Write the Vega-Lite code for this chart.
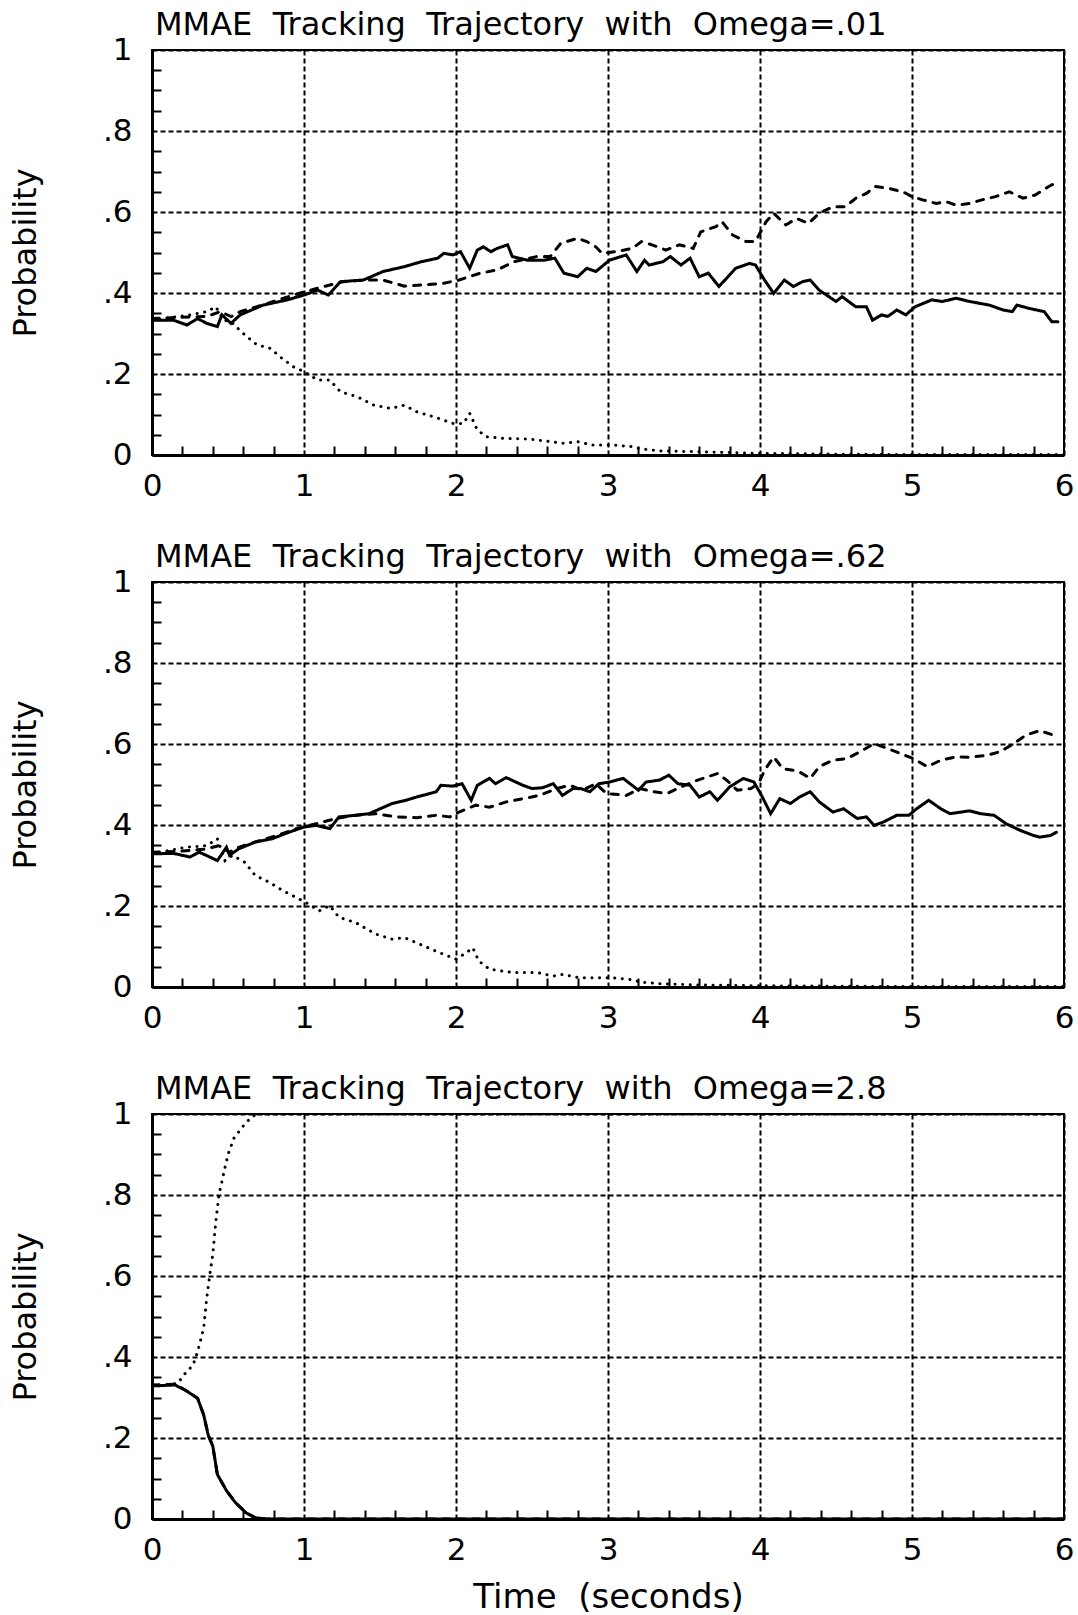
{
"$schema": "https://vega.github.io/schema/vega-lite/v6.json",
"background": "white",
"padding": {"left": 8, "top": 8, "right": 10, "bottom": 0},
"config": {
"font": "DejaVu Sans",
"view": {"stroke": "black", "strokeWidth": 2},
"axis": {"domainColor": "black", "domainWidth": 3, "tickColor": "black", "tickWidth": 2, "labelColor": "black", "labelFontSize": 31, "labelFont": "DejaVu Sans", "titleFont": "DejaVu Sans", "titleFontWeight": "normal", "titleColor": "black", "titleFontSize": 32, "gridColor": "black", "gridDash": [5, 3], "gridWidth": 2, "labelFlush": false, "labelOverlap": false, "labelBound": false}
},
"datasets": {
"top": [
{"t":0,"p":0.333,"s":"solid"},{"t":0.02,"p":0.333,"s":"solid"},{"t":0.14,"p":0.333,"s":"solid"},{"t":0.23,"p":0.321,"s":"solid"},{"t":0.3,"p":0.337,"s":"solid"},{"t":0.36,"p":0.325,"s":"solid"},{"t":0.43,"p":0.317,"s":"solid"},{"t":0.46,"p":0.346,"s":"solid"},{"t":0.52,"p":0.325,"s":"solid"},{"t":0.58,"p":0.346,"s":"solid"},{"t":0.73,"p":0.37,"s":"solid"},{"t":0.89,"p":0.383,"s":"solid"},{"t":1.0,"p":0.395,"s":"solid"},{"t":1.09,"p":0.407,"s":"solid"},{"t":1.16,"p":0.395,"s":"solid"},{"t":1.24,"p":0.428,"s":"solid"},{"t":1.39,"p":0.432,"s":"solid"},{"t":1.52,"p":0.453,"s":"solid"},{"t":1.66,"p":0.465,"s":"solid"},{"t":1.77,"p":0.477,"s":"solid"},{"t":1.88,"p":0.486,"s":"solid"},{"t":1.92,"p":0.498,"s":"solid"},{"t":1.98,"p":0.494,"s":"solid"},{"t":2.03,"p":0.502,"s":"solid"},{"t":2.09,"p":0.461,"s":"solid"},{"t":2.14,"p":0.506,"s":"solid"},{"t":2.18,"p":0.514,"s":"solid"},{"t":2.23,"p":0.502,"s":"solid"},{"t":2.27,"p":0.51,"s":"solid"},{"t":2.34,"p":0.519,"s":"solid"},{"t":2.37,"p":0.49,"s":"solid"},{"t":2.47,"p":0.481,"s":"solid"},{"t":2.58,"p":0.481,"s":"solid"},{"t":2.65,"p":0.486,"s":"solid"},{"t":2.71,"p":0.449,"s":"solid"},{"t":2.8,"p":0.44,"s":"solid"},{"t":2.86,"p":0.461,"s":"solid"},{"t":2.92,"p":0.453,"s":"solid"},{"t":3.01,"p":0.481,"s":"solid"},{"t":3.12,"p":0.494,"s":"solid"},{"t":3.19,"p":0.453,"s":"solid"},{"t":3.24,"p":0.481,"s":"solid"},{"t":3.27,"p":0.469,"s":"solid"},{"t":3.36,"p":0.477,"s":"solid"},{"t":3.41,"p":0.49,"s":"solid"},{"t":3.48,"p":0.469,"s":"solid"},{"t":3.54,"p":0.486,"s":"solid"},{"t":3.6,"p":0.44,"s":"solid"},{"t":3.66,"p":0.449,"s":"solid"},{"t":3.73,"p":0.416,"s":"solid"},{"t":3.84,"p":0.461,"s":"solid"},{"t":3.93,"p":0.473,"s":"solid"},{"t":3.97,"p":0.469,"s":"solid"},{"t":4.03,"p":0.432,"s":"solid"},{"t":4.09,"p":0.399,"s":"solid"},{"t":4.16,"p":0.432,"s":"solid"},{"t":4.22,"p":0.416,"s":"solid"},{"t":4.28,"p":0.428,"s":"solid"},{"t":4.33,"p":0.432,"s":"solid"},{"t":4.39,"p":0.407,"s":"solid"},{"t":4.5,"p":0.379,"s":"solid"},{"t":4.54,"p":0.391,"s":"solid"},{"t":4.63,"p":0.366,"s":"solid"},{"t":4.7,"p":0.366,"s":"solid"},{"t":4.74,"p":0.333,"s":"solid"},{"t":4.8,"p":0.346,"s":"solid"},{"t":4.84,"p":0.342,"s":"solid"},{"t":4.9,"p":0.358,"s":"solid"},{"t":4.96,"p":0.346,"s":"solid"},{"t":5.02,"p":0.366,"s":"solid"},{"t":5.13,"p":0.383,"s":"solid"},{"t":5.2,"p":0.379,"s":"solid"},{"t":5.29,"p":0.387,"s":"solid"},{"t":5.38,"p":0.379,"s":"solid"},{"t":5.51,"p":0.37,"s":"solid"},{"t":5.6,"p":0.358,"s":"solid"},{"t":5.66,"p":0.354,"s":"solid"},{"t":5.69,"p":0.37,"s":"solid"},{"t":5.77,"p":0.362,"s":"solid"},{"t":5.87,"p":0.354,"s":"solid"},{"t":5.92,"p":0.329,"s":"solid"},{"t":5.96,"p":0.329,"s":"solid"},
{"t":0,"p":0.337,"s":"dashed"},{"t":0.19,"p":0.34,"s":"dashed"},{"t":0.36,"p":0.342,"s":"dashed"},{"t":0.45,"p":0.354,"s":"dashed"},{"t":0.52,"p":0.342,"s":"dashed"},{"t":0.58,"p":0.354,"s":"dashed"},{"t":0.69,"p":0.366,"s":"dashed"},{"t":0.8,"p":0.379,"s":"dashed"},{"t":0.93,"p":0.395,"s":"dashed"},{"t":1.09,"p":0.412,"s":"dashed"},{"t":1.26,"p":0.428,"s":"dashed"},{"t":1.39,"p":0.432,"s":"dashed"},{"t":1.52,"p":0.432,"s":"dashed"},{"t":1.66,"p":0.417,"s":"dashed"},{"t":1.79,"p":0.42,"s":"dashed"},{"t":1.92,"p":0.424,"s":"dashed"},{"t":2.02,"p":0.432,"s":"dashed"},{"t":2.16,"p":0.449,"s":"dashed"},{"t":2.27,"p":0.457,"s":"dashed"},{"t":2.38,"p":0.477,"s":"dashed"},{"t":2.53,"p":0.49,"s":"dashed"},{"t":2.62,"p":0.49,"s":"dashed"},{"t":2.69,"p":0.523,"s":"dashed"},{"t":2.8,"p":0.535,"s":"dashed"},{"t":2.86,"p":0.527,"s":"dashed"},{"t":2.92,"p":0.514,"s":"dashed"},{"t":2.96,"p":0.498,"s":"dashed"},{"t":3.05,"p":0.502,"s":"dashed"},{"t":3.16,"p":0.51,"s":"dashed"},{"t":3.22,"p":0.527,"s":"dashed"},{"t":3.29,"p":0.519,"s":"dashed"},{"t":3.38,"p":0.506,"s":"dashed"},{"t":3.47,"p":0.519,"s":"dashed"},{"t":3.56,"p":0.51,"s":"dashed"},{"t":3.61,"p":0.551,"s":"dashed"},{"t":3.71,"p":0.564,"s":"dashed"},{"t":3.75,"p":0.576,"s":"dashed"},{"t":3.82,"p":0.543,"s":"dashed"},{"t":3.91,"p":0.527,"s":"dashed"},{"t":3.97,"p":0.527,"s":"dashed"},{"t":4.04,"p":0.576,"s":"dashed"},{"t":4.09,"p":0.597,"s":"dashed"},{"t":4.17,"p":0.568,"s":"dashed"},{"t":4.24,"p":0.584,"s":"dashed"},{"t":4.32,"p":0.572,"s":"dashed"},{"t":4.39,"p":0.597,"s":"dashed"},{"t":4.48,"p":0.613,"s":"dashed"},{"t":4.56,"p":0.613,"s":"dashed"},{"t":4.63,"p":0.634,"s":"dashed"},{"t":4.7,"p":0.646,"s":"dashed"},{"t":4.76,"p":0.663,"s":"dashed"},{"t":4.85,"p":0.658,"s":"dashed"},{"t":4.94,"p":0.65,"s":"dashed"},{"t":5.0,"p":0.638,"s":"dashed"},{"t":5.07,"p":0.63,"s":"dashed"},{"t":5.16,"p":0.621,"s":"dashed"},{"t":5.22,"p":0.626,"s":"dashed"},{"t":5.29,"p":0.617,"s":"dashed"},{"t":5.38,"p":0.621,"s":"dashed"},{"t":5.46,"p":0.63,"s":"dashed"},{"t":5.55,"p":0.638,"s":"dashed"},{"t":5.64,"p":0.65,"s":"dashed"},{"t":5.73,"p":0.634,"s":"dashed"},{"t":5.81,"p":0.642,"s":"dashed"},{"t":5.9,"p":0.663,"s":"dashed"},{"t":5.96,"p":0.675,"s":"dashed"},
{"t":0,"p":0.333,"s":"dotted"},{"t":0.25,"p":0.346,"s":"dotted"},{"t":0.36,"p":0.354,"s":"dotted"},{"t":0.42,"p":0.366,"s":"dotted"},{"t":0.47,"p":0.333,"s":"dotted"},{"t":0.52,"p":0.329,"s":"dotted"},{"t":0.6,"p":0.3,"s":"dotted"},{"t":0.69,"p":0.272,"s":"dotted"},{"t":0.78,"p":0.263,"s":"dotted"},{"t":0.84,"p":0.243,"s":"dotted"},{"t":0.93,"p":0.218,"s":"dotted"},{"t":1.0,"p":0.206,"s":"dotted"},{"t":1.09,"p":0.185,"s":"dotted"},{"t":1.17,"p":0.185,"s":"dotted"},{"t":1.24,"p":0.156,"s":"dotted"},{"t":1.35,"p":0.144,"s":"dotted"},{"t":1.46,"p":0.123,"s":"dotted"},{"t":1.57,"p":0.115,"s":"dotted"},{"t":1.66,"p":0.123,"s":"dotted"},{"t":1.74,"p":0.107,"s":"dotted"},{"t":1.88,"p":0.091,"s":"dotted"},{"t":1.98,"p":0.078,"s":"dotted"},{"t":2.05,"p":0.078,"s":"dotted"},{"t":2.09,"p":0.103,"s":"dotted"},{"t":2.14,"p":0.062,"s":"dotted"},{"t":2.2,"p":0.045,"s":"dotted"},{"t":2.31,"p":0.041,"s":"dotted"},{"t":2.49,"p":0.039,"s":"dotted"},{"t":2.62,"p":0.033,"s":"dotted"},{"t":2.71,"p":0.029,"s":"dotted"},{"t":2.8,"p":0.033,"s":"dotted"},{"t":2.89,"p":0.025,"s":"dotted"},{"t":3.02,"p":0.025,"s":"dotted"},{"t":3.15,"p":0.021,"s":"dotted"},{"t":3.22,"p":0.015,"s":"dotted"},{"t":3.35,"p":0.01,"s":"dotted"},{"t":3.6,"p":0.008,"s":"dotted"},{"t":4.0,"p":0.004,"s":"dotted"},{"t":4.5,"p":0.002,"s":"dotted"},{"t":5.0,"p":0.001,"s":"dotted"},{"t":6.0,"p":0.001,"s":"dotted"}
],
"mid": [
{"t":0,"p":0.329,"s":"solid"},{"t":0.04,"p":0.329,"s":"solid"},{"t":0.14,"p":0.33,"s":"solid"},{"t":0.25,"p":0.321,"s":"solid"},{"t":0.31,"p":0.333,"s":"solid"},{"t":0.38,"p":0.321,"s":"solid"},{"t":0.43,"p":0.312,"s":"solid"},{"t":0.49,"p":0.345,"s":"solid"},{"t":0.51,"p":0.325,"s":"solid"},{"t":0.57,"p":0.341,"s":"solid"},{"t":0.68,"p":0.358,"s":"solid"},{"t":0.79,"p":0.366,"s":"solid"},{"t":0.9,"p":0.382,"s":"solid"},{"t":1.0,"p":0.395,"s":"solid"},{"t":1.08,"p":0.399,"s":"solid"},{"t":1.17,"p":0.391,"s":"solid"},{"t":1.23,"p":0.42,"s":"solid"},{"t":1.34,"p":0.424,"s":"solid"},{"t":1.43,"p":0.428,"s":"solid"},{"t":1.5,"p":0.44,"s":"solid"},{"t":1.58,"p":0.453,"s":"solid"},{"t":1.67,"p":0.461,"s":"solid"},{"t":1.74,"p":0.469,"s":"solid"},{"t":1.82,"p":0.477,"s":"solid"},{"t":1.87,"p":0.482,"s":"solid"},{"t":1.9,"p":0.498,"s":"solid"},{"t":1.98,"p":0.496,"s":"solid"},{"t":2.04,"p":0.502,"s":"solid"},{"t":2.1,"p":0.461,"s":"solid"},{"t":2.14,"p":0.498,"s":"solid"},{"t":2.22,"p":0.515,"s":"solid"},{"t":2.26,"p":0.502,"s":"solid"},{"t":2.33,"p":0.517,"s":"solid"},{"t":2.44,"p":0.498,"s":"solid"},{"t":2.5,"p":0.49,"s":"solid"},{"t":2.57,"p":0.492,"s":"solid"},{"t":2.64,"p":0.502,"s":"solid"},{"t":2.7,"p":0.473,"s":"solid"},{"t":2.77,"p":0.49,"s":"solid"},{"t":2.82,"p":0.49,"s":"solid"},{"t":2.88,"p":0.482,"s":"solid"},{"t":2.94,"p":0.502,"s":"solid"},{"t":3.01,"p":0.506,"s":"solid"},{"t":3.1,"p":0.515,"s":"solid"},{"t":3.2,"p":0.486,"s":"solid"},{"t":3.25,"p":0.506,"s":"solid"},{"t":3.34,"p":0.511,"s":"solid"},{"t":3.4,"p":0.523,"s":"solid"},{"t":3.46,"p":0.502,"s":"solid"},{"t":3.54,"p":0.498,"s":"solid"},{"t":3.6,"p":0.469,"s":"solid"},{"t":3.67,"p":0.482,"s":"solid"},{"t":3.72,"p":0.461,"s":"solid"},{"t":3.8,"p":0.494,"s":"solid"},{"t":3.89,"p":0.515,"s":"solid"},{"t":3.96,"p":0.506,"s":"solid"},{"t":4.01,"p":0.473,"s":"solid"},{"t":4.07,"p":0.428,"s":"solid"},{"t":4.13,"p":0.465,"s":"solid"},{"t":4.2,"p":0.453,"s":"solid"},{"t":4.26,"p":0.469,"s":"solid"},{"t":4.33,"p":0.482,"s":"solid"},{"t":4.39,"p":0.457,"s":"solid"},{"t":4.48,"p":0.432,"s":"solid"},{"t":4.55,"p":0.44,"s":"solid"},{"t":4.64,"p":0.416,"s":"solid"},{"t":4.7,"p":0.42,"s":"solid"},{"t":4.75,"p":0.399,"s":"solid"},{"t":4.81,"p":0.407,"s":"solid"},{"t":4.9,"p":0.424,"s":"solid"},{"t":4.98,"p":0.424,"s":"solid"},{"t":5.03,"p":0.44,"s":"solid"},{"t":5.11,"p":0.461,"s":"solid"},{"t":5.19,"p":0.44,"s":"solid"},{"t":5.25,"p":0.428,"s":"solid"},{"t":5.38,"p":0.435,"s":"solid"},{"t":5.45,"p":0.428,"s":"solid"},{"t":5.54,"p":0.424,"s":"solid"},{"t":5.62,"p":0.403,"s":"solid"},{"t":5.71,"p":0.387,"s":"solid"},{"t":5.8,"p":0.374,"s":"solid"},{"t":5.84,"p":0.37,"s":"solid"},{"t":5.91,"p":0.374,"s":"solid"},{"t":5.95,"p":0.382,"s":"solid"},
{"t":0,"p":0.333,"s":"dashed"},{"t":0.18,"p":0.335,"s":"dashed"},{"t":0.36,"p":0.341,"s":"dashed"},{"t":0.44,"p":0.349,"s":"dashed"},{"t":0.51,"p":0.333,"s":"dashed"},{"t":0.57,"p":0.345,"s":"dashed"},{"t":0.68,"p":0.358,"s":"dashed"},{"t":0.82,"p":0.374,"s":"dashed"},{"t":0.95,"p":0.391,"s":"dashed"},{"t":1.08,"p":0.403,"s":"dashed"},{"t":1.21,"p":0.416,"s":"dashed"},{"t":1.34,"p":0.424,"s":"dashed"},{"t":1.47,"p":0.428,"s":"dashed"},{"t":1.61,"p":0.42,"s":"dashed"},{"t":1.74,"p":0.418,"s":"dashed"},{"t":1.87,"p":0.424,"s":"dashed"},{"t":1.96,"p":0.42,"s":"dashed"},{"t":2.02,"p":0.432,"s":"dashed"},{"t":2.13,"p":0.449,"s":"dashed"},{"t":2.22,"p":0.444,"s":"dashed"},{"t":2.33,"p":0.457,"s":"dashed"},{"t":2.44,"p":0.465,"s":"dashed"},{"t":2.55,"p":0.473,"s":"dashed"},{"t":2.66,"p":0.49,"s":"dashed"},{"t":2.75,"p":0.498,"s":"dashed"},{"t":2.83,"p":0.486,"s":"dashed"},{"t":2.92,"p":0.502,"s":"dashed"},{"t":2.99,"p":0.478,"s":"dashed"},{"t":3.12,"p":0.473,"s":"dashed"},{"t":3.21,"p":0.49,"s":"dashed"},{"t":3.3,"p":0.482,"s":"dashed"},{"t":3.39,"p":0.478,"s":"dashed"},{"t":3.48,"p":0.494,"s":"dashed"},{"t":3.59,"p":0.511,"s":"dashed"},{"t":3.72,"p":0.527,"s":"dashed"},{"t":3.78,"p":0.511,"s":"dashed"},{"t":3.85,"p":0.486,"s":"dashed"},{"t":3.94,"p":0.49,"s":"dashed"},{"t":3.99,"p":0.502,"s":"dashed"},{"t":4.03,"p":0.535,"s":"dashed"},{"t":4.09,"p":0.568,"s":"dashed"},{"t":4.15,"p":0.539,"s":"dashed"},{"t":4.22,"p":0.535,"s":"dashed"},{"t":4.26,"p":0.531,"s":"dashed"},{"t":4.33,"p":0.515,"s":"dashed"},{"t":4.39,"p":0.544,"s":"dashed"},{"t":4.48,"p":0.56,"s":"dashed"},{"t":4.57,"p":0.564,"s":"dashed"},{"t":4.66,"p":0.581,"s":"dashed"},{"t":4.75,"p":0.601,"s":"dashed"},{"t":4.84,"p":0.589,"s":"dashed"},{"t":4.92,"p":0.577,"s":"dashed"},{"t":5.01,"p":0.564,"s":"dashed"},{"t":5.1,"p":0.544,"s":"dashed"},{"t":5.19,"p":0.56,"s":"dashed"},{"t":5.29,"p":0.568,"s":"dashed"},{"t":5.38,"p":0.567,"s":"dashed"},{"t":5.49,"p":0.572,"s":"dashed"},{"t":5.58,"p":0.581,"s":"dashed"},{"t":5.67,"p":0.601,"s":"dashed"},{"t":5.75,"p":0.622,"s":"dashed"},{"t":5.84,"p":0.633,"s":"dashed"},{"t":5.93,"p":0.622,"s":"dashed"},
{"t":0,"p":0.329,"s":"dotted"},{"t":0.22,"p":0.345,"s":"dotted"},{"t":0.36,"p":0.349,"s":"dotted"},{"t":0.43,"p":0.366,"s":"dotted"},{"t":0.48,"p":0.312,"s":"dotted"},{"t":0.53,"p":0.325,"s":"dotted"},{"t":0.61,"p":0.308,"s":"dotted"},{"t":0.68,"p":0.275,"s":"dotted"},{"t":0.77,"p":0.259,"s":"dotted"},{"t":0.86,"p":0.238,"s":"dotted"},{"t":0.95,"p":0.221,"s":"dotted"},{"t":1.01,"p":0.209,"s":"dotted"},{"t":1.1,"p":0.188,"s":"dotted"},{"t":1.17,"p":0.201,"s":"dotted"},{"t":1.23,"p":0.172,"s":"dotted"},{"t":1.34,"p":0.159,"s":"dotted"},{"t":1.47,"p":0.131,"s":"dotted"},{"t":1.58,"p":0.118,"s":"dotted"},{"t":1.66,"p":0.122,"s":"dotted"},{"t":1.76,"p":0.106,"s":"dotted"},{"t":1.89,"p":0.085,"s":"dotted"},{"t":2.0,"p":0.069,"s":"dotted"},{"t":2.07,"p":0.085,"s":"dotted"},{"t":2.11,"p":0.097,"s":"dotted"},{"t":2.15,"p":0.064,"s":"dotted"},{"t":2.22,"p":0.044,"s":"dotted"},{"t":2.37,"p":0.036,"s":"dotted"},{"t":2.53,"p":0.036,"s":"dotted"},{"t":2.64,"p":0.027,"s":"dotted"},{"t":2.7,"p":0.031,"s":"dotted"},{"t":2.81,"p":0.023,"s":"dotted"},{"t":3.01,"p":0.023,"s":"dotted"},{"t":3.14,"p":0.019,"s":"dotted"},{"t":3.22,"p":0.012,"s":"dotted"},{"t":3.35,"p":0.008,"s":"dotted"},{"t":3.6,"p":0.005,"s":"dotted"},{"t":4.0,"p":0.003,"s":"dotted"},{"t":5.0,"p":0.001,"s":"dotted"},{"t":6.0,"p":0.001,"s":"dotted"}
],
"bot": [
{"t":0,"p":0.329,"s":"solid"},{"t":0.04,"p":0.329,"s":"solid"},{"t":0.15,"p":0.331,"s":"solid"},{"t":0.22,"p":0.318,"s":"solid"},{"t":0.3,"p":0.298,"s":"solid"},{"t":0.34,"p":0.257,"s":"solid"},{"t":0.37,"p":0.207,"s":"solid"},{"t":0.4,"p":0.18,"s":"solid"},{"t":0.43,"p":0.11,"s":"solid"},{"t":0.49,"p":0.07,"s":"solid"},{"t":0.55,"p":0.04,"s":"solid"},{"t":0.62,"p":0.015,"s":"solid"},{"t":0.68,"p":0.003,"s":"solid"},{"t":0.75,"p":0,"s":"solid"},{"t":6,"p":0,"s":"solid"},
{"t":0,"p":0.331,"s":"dashed"},{"t":0.15,"p":0.333,"s":"dashed"},{"t":0.22,"p":0.318,"s":"dashed"},{"t":0.3,"p":0.298,"s":"dashed"},{"t":0.34,"p":0.257,"s":"dashed"},{"t":0.37,"p":0.207,"s":"dashed"},{"t":0.4,"p":0.18,"s":"dashed"},{"t":0.43,"p":0.11,"s":"dashed"},{"t":0.49,"p":0.07,"s":"dashed"},{"t":0.55,"p":0.04,"s":"dashed"},{"t":0.62,"p":0.015,"s":"dashed"},{"t":0.68,"p":0.003,"s":"dashed"},{"t":0.75,"p":0,"s":"dashed"},{"t":6,"p":0,"s":"dashed"},
{"t":0,"p":0.327,"s":"dotted"},{"t":0.17,"p":0.335,"s":"dotted"},{"t":0.21,"p":0.356,"s":"dotted"},{"t":0.27,"p":0.38,"s":"dotted"},{"t":0.3,"p":0.413,"s":"dotted"},{"t":0.34,"p":0.471,"s":"dotted"},{"t":0.36,"p":0.545,"s":"dotted"},{"t":0.38,"p":0.603,"s":"dotted"},{"t":0.4,"p":0.653,"s":"dotted"},{"t":0.42,"p":0.735,"s":"dotted"},{"t":0.44,"p":0.799,"s":"dotted"},{"t":0.47,"p":0.851,"s":"dotted"},{"t":0.5,"p":0.9,"s":"dotted"},{"t":0.54,"p":0.941,"s":"dotted"},{"t":0.6,"p":0.97,"s":"dotted"},{"t":0.65,"p":0.991,"s":"dotted"},{"t":0.68,"p":0.998,"s":"dotted"},{"t":0.72,"p":1,"s":"dotted"},{"t":6,"p":1,"s":"dotted"}
]
},
"spacing": 127,
"bounds": "flush",
"vconcat": [
{
"width": 912, "height": 405,
"title": {"text": "MMAE\u00a0 Tracking\u00a0 Trajectory\u00a0 with\u00a0 Omega=.01", "anchor": "start", "frame": "group", "fontSize": 32, "fontWeight": "normal", "font": "DejaVu Sans", "color": "black", "offset": -8, "dx": 3},
"data": {"name": "top"},
"mark": {"type": "line", "color": "black", "strokeCap": "round", "clip": true},
"encoding": {
"x": {"field": "t", "type": "quantitative", "scale": {"domain": [0, 6], "nice": false, "zero": false},
"axis": {"title": null, "values": [0,0.2,0.4,0.6,0.8,1,1.2,1.4,1.6,1.8,2,2.2,2.4,2.6,2.8,3,3.2,3.4,3.6,3.8,4,4.2,4.4,4.6,4.8,5,5.2,5.4,5.6,5.8,6], "tickSize": -9, "tickOpacity": {"condition": {"test": "abs(datum.value - round(datum.value)) < 0.001", "value": 0}, "value": 1}, "grid": true, "gridOpacity": {"condition": {"test": "abs(datum.value - round(datum.value)) < 0.001", "value": 1}, "value": 0}, "labelExpr": "abs(datum.value - round(datum.value)) < 0.001 ? format(datum.value, 'd') : ''", "labelPadding": 25}},
"y": {"field": "p", "type": "quantitative", "scale": {"domain": [0, 1], "nice": false},
"axis": {"title": "Probability", "titlePadding": 60, "values": [0,0.05,0.1,0.15,0.2,0.25,0.3,0.35,0.4,0.45,0.5,0.55,0.6,0.65,0.7,0.75,0.8,0.85,0.9,0.95,1], "tickSize": -9, "tickOpacity": {"condition": {"test": "abs(datum.value*5 - round(datum.value*5)) < 0.001", "value": 0}, "value": 1}, "grid": true, "gridOpacity": {"condition": {"test": "abs(datum.value*5 - round(datum.value*5)) < 0.001", "value": 1}, "value": 0}, "labelExpr": "abs(datum.value*5 - round(datum.value*5)) < 0.001 ? (datum.value == 0 ? '0' : datum.value == 1 ? '1' : replace(format(datum.value, '.1f'), '0.', '.')) : ''", "labelPadding": 29}},
"strokeDash": {"field": "s", "type": "nominal", "scale": {"domain": ["solid", "dashed", "dotted"], "range": [[1, 0], [7, 8], [0.1, 7.5]]}, "legend": null},
"strokeWidth": {"field": "s", "type": "nominal", "scale": {"domain": ["solid", "dashed", "dotted"], "range": [3, 3, 4.5]}, "legend": null}
}
},
{
"width": 912, "height": 405,
"title": {"text": "MMAE\u00a0 Tracking\u00a0 Trajectory\u00a0 with\u00a0 Omega=.62", "anchor": "start", "frame": "group", "fontSize": 32, "fontWeight": "normal", "font": "DejaVu Sans", "color": "black", "offset": -8, "dx": 3},
"data": {"name": "mid"},
"mark": {"type": "line", "color": "black", "strokeCap": "round", "clip": true},
"encoding": {
"x": {"field": "t", "type": "quantitative", "scale": {"domain": [0, 6], "nice": false, "zero": false},
"axis": {"title": null, "values": [0,0.2,0.4,0.6,0.8,1,1.2,1.4,1.6,1.8,2,2.2,2.4,2.6,2.8,3,3.2,3.4,3.6,3.8,4,4.2,4.4,4.6,4.8,5,5.2,5.4,5.6,5.8,6], "tickSize": -9, "tickOpacity": {"condition": {"test": "abs(datum.value - round(datum.value)) < 0.001", "value": 0}, "value": 1}, "grid": true, "gridOpacity": {"condition": {"test": "abs(datum.value - round(datum.value)) < 0.001", "value": 1}, "value": 0}, "labelExpr": "abs(datum.value - round(datum.value)) < 0.001 ? format(datum.value, 'd') : ''", "labelPadding": 25}},
"y": {"field": "p", "type": "quantitative", "scale": {"domain": [0, 1], "nice": false},
"axis": {"title": "Probability", "titlePadding": 60, "values": [0,0.05,0.1,0.15,0.2,0.25,0.3,0.35,0.4,0.45,0.5,0.55,0.6,0.65,0.7,0.75,0.8,0.85,0.9,0.95,1], "tickSize": -9, "tickOpacity": {"condition": {"test": "abs(datum.value*5 - round(datum.value*5)) < 0.001", "value": 0}, "value": 1}, "grid": true, "gridOpacity": {"condition": {"test": "abs(datum.value*5 - round(datum.value*5)) < 0.001", "value": 1}, "value": 0}, "labelExpr": "abs(datum.value*5 - round(datum.value*5)) < 0.001 ? (datum.value == 0 ? '0' : datum.value == 1 ? '1' : replace(format(datum.value, '.1f'), '0.', '.')) : ''", "labelPadding": 29}},
"strokeDash": {"field": "s", "type": "nominal", "scale": {"domain": ["solid", "dashed", "dotted"], "range": [[1, 0], [7, 8], [0.1, 7.5]]}, "legend": null},
"strokeWidth": {"field": "s", "type": "nominal", "scale": {"domain": ["solid", "dashed", "dotted"], "range": [3, 3, 4.5]}, "legend": null}
}
},
{
"width": 912, "height": 405,
"title": {"text": "MMAE\u00a0 Tracking\u00a0 Trajectory\u00a0 with\u00a0 Omega=2.8", "anchor": "start", "frame": "group", "fontSize": 32, "fontWeight": "normal", "font": "DejaVu Sans", "color": "black", "offset": -8, "dx": 3},
"data": {"name": "bot"},
"mark": {"type": "line", "color": "black", "strokeCap": "round", "clip": true},
"encoding": {
"x": {"field": "t", "type": "quantitative", "scale": {"domain": [0, 6], "nice": false, "zero": false},
"axis": {"title": "Time\u00a0 (seconds)", "titleFontSize": 34, "titlePadding": 15, "values": [0,0.2,0.4,0.6,0.8,1,1.2,1.4,1.6,1.8,2,2.2,2.4,2.6,2.8,3,3.2,3.4,3.6,3.8,4,4.2,4.4,4.6,4.8,5,5.2,5.4,5.6,5.8,6], "tickSize": -9, "tickOpacity": {"condition": {"test": "abs(datum.value - round(datum.value)) < 0.001", "value": 0}, "value": 1}, "grid": true, "gridOpacity": {"condition": {"test": "abs(datum.value - round(datum.value)) < 0.001", "value": 1}, "value": 0}, "labelExpr": "abs(datum.value - round(datum.value)) < 0.001 ? format(datum.value, 'd') : ''", "labelPadding": 25}},
"y": {"field": "p", "type": "quantitative", "scale": {"domain": [0, 1], "nice": false},
"axis": {"title": "Probability", "titlePadding": 60, "values": [0,0.05,0.1,0.15,0.2,0.25,0.3,0.35,0.4,0.45,0.5,0.55,0.6,0.65,0.7,0.75,0.8,0.85,0.9,0.95,1], "tickSize": -9, "tickOpacity": {"condition": {"test": "abs(datum.value*5 - round(datum.value*5)) < 0.001", "value": 0}, "value": 1}, "grid": true, "gridOpacity": {"condition": {"test": "abs(datum.value*5 - round(datum.value*5)) < 0.001", "value": 1}, "value": 0}, "labelExpr": "abs(datum.value*5 - round(datum.value*5)) < 0.001 ? (datum.value == 0 ? '0' : datum.value == 1 ? '1' : replace(format(datum.value, '.1f'), '0.', '.')) : ''", "labelPadding": 29}},
"strokeDash": {"field": "s", "type": "nominal", "scale": {"domain": ["solid", "dashed", "dotted"], "range": [[1, 0], [7, 8], [0.1, 7.5]]}, "legend": null},
"strokeWidth": {"field": "s", "type": "nominal", "scale": {"domain": ["solid", "dashed", "dotted"], "range": [3, 3, 4.5]}, "legend": null}
}
}
]
}
